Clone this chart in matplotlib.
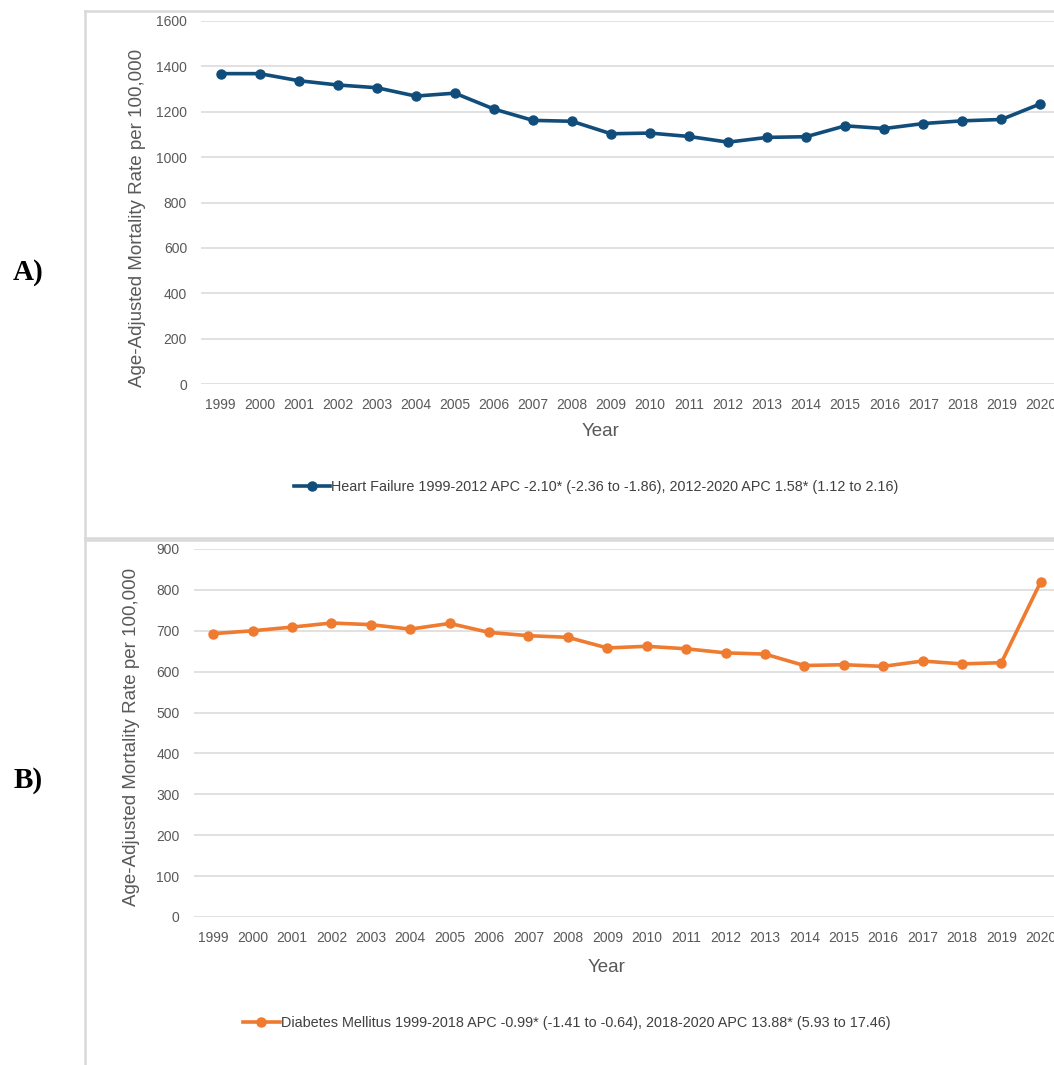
import matplotlib
matplotlib.use("Agg")
import matplotlib.pyplot as plt
from matplotlib.lines import Line2D

plt.rcParams['font.family'] = ['Liberation Sans', 'DejaVu Sans']

# Values
years = list(range(1999, 2021))
heart_failure = [1368, 1368, 1337, 1318, 1306, 1269, 1282, 1212, 1162, 1158, 1103,
                 1106, 1091, 1066, 1087, 1090, 1138, 1126, 1148, 1160, 1166, 1235]
diabetes = [693, 700, 709, 719, 715, 704, 718, 696, 688, 684, 658,
            662, 656, 646, 643, 615, 617, 613, 626, 619, 622, 820]

hf_label = "Heart Failure 1999-2012 APC -2.10* (-2.36 to -1.86), 2012-2020 APC 1.58* (1.12 to 2.16)"
dm_label = "Diabetes Mellitus 1999-2018 APC -0.99* (-1.41 to -0.64), 2018-2020 APC 13.88* (5.93 to 17.46)"

BLUE = '#114d7b'
ORANGE = '#ee7b30'
GRID = '#d9d9d9'
TEXT = '#595959'

W, H = 1054, 1065
fig = plt.figure(figsize=(W / 100, H / 100), dpi=100)


def px(x, y):
    # pixel coords (from top-left) to figure fraction
    return x / W, 1 - y / H


def panel(rect, values, color, label, ymax, ystep, ylab_xy, year_xy, leg_xy):
    left, top, right, bottom = rect
    ax = fig.add_axes([left / W, 1 - bottom / H, (right - left) / W, (bottom - top) / H])
    x = list(range(len(years)))
    line, = ax.plot(x, values, color=color, lw=2.6, marker='o', ms=6.5, label=label)
    ax.set_xlim(-0.5, len(years) - 0.5)
    ax.set_ylim(0, ymax)
    ax.set_yticks(range(0, ymax + 1, ystep))
    ax.set_xticks(x)
    ax.set_xticklabels([str(y) for y in years])
    ax.grid(axis='y', color=GRID, lw=1.1)
    ax.set_axisbelow(True)
    for s in ax.spines.values():
        s.set_visible(False)
    ax.tick_params(length=0, labelsize=10, colors=TEXT, pad=10)
    fig.text(*px(*ylab_xy), "Age-Adjusted Mortality Rate per 100,000", rotation=90,
             ha='center', va='center', fontsize=13.5, color=TEXT)
    fig.text(*px(*year_xy), "Year", ha='center', va='center', fontsize=13.5, color=TEXT)
    fig.legend(handles=[line], loc='center', bbox_to_anchor=px(*leg_xy), frameon=False,
               fontsize=10.4, labelcolor='#404040', handlelength=2.5, handletextpad=0.1)
    return ax


panel((201, 21, 1060, 384), heart_failure, BLUE, hf_label, 1600, 200,
      (137, 218), (601, 432), (596, 487))
panel((193.5, 549, 1060.5, 917), diabetes, ORANGE, dm_label, 900, 100,
      (132, 737), (607, 968), (567, 1023))

# chart-area borders
border = dict(color=GRID, lw=1.8, transform=fig.transFigure)
for (x0, y0), (x1, y1) in [((85, 11), (1054, 11)), ((85, 11), (85, 538)),
                           ((85, 538), (1054, 538)), ((85, 540), (1054, 540)),
                           ((85, 540), (85, 1065))]:
    a, b = px(x0, y0)
    c, d = px(x1, y1)
    fig.add_artist(Line2D([a, c], [b, d], **border))

fig.text(*px(28, 272), "A)", ha='center', va='center', fontsize=21,
         fontweight='bold', family='Liberation Serif')
fig.text(*px(28, 781), "B)", ha='center', va='center', fontsize=21,
         fontweight='bold', family='Liberation Serif')

fig.savefig('out.png', dpi=100)
